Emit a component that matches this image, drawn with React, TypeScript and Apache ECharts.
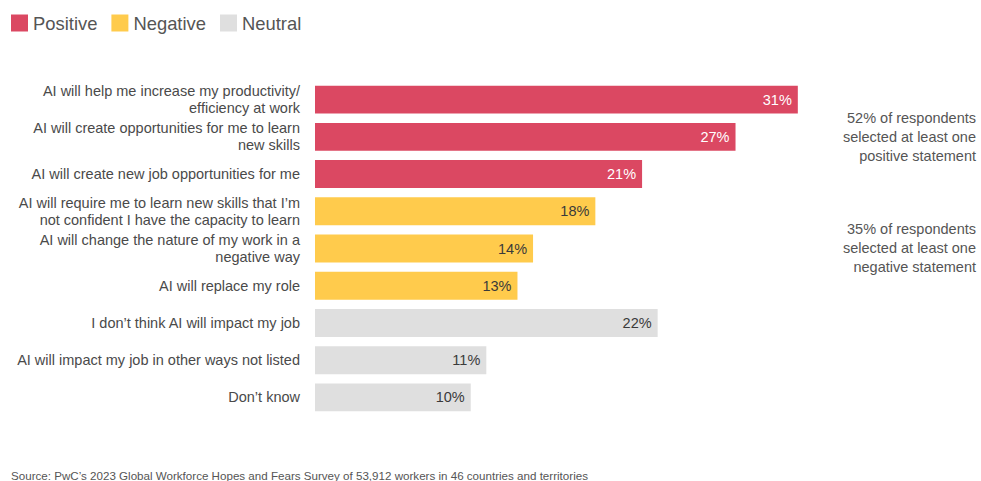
import React, { useEffect, useRef } from "react";
import * as echarts from "echarts";

const categories = [
  "AI will help me increase my productivity/\nefficiency at work",
  "AI will create opportunities for me to learn\nnew skills",
  "AI will create new job opportunities for me",
  "AI will require me to learn new skills that I’m\nnot confident I have the capacity to learn",
  "AI will change the nature of my work in a\nnegative way",
  "AI will replace my role",
  "I don’t think AI will impact my job",
  "AI will impact my job in other ways not listed",
  "Don’t know",
];
const groups = ["Positive", "Positive", "Positive", "Negative", "Negative", "Negative", "Neutral", "Neutral", "Neutral"];
const values = [31, 27, 21, 18, 14, 13, 22, 11, 10];
const seriesNames = ["Positive", "Negative", "Neutral"];
const seriesColors = ["#DB4862", "#FFCB4C", "#DFDFDF"];
const labelColors = ["#FFFFFF", "#3A3A3A", "#3A3A3A"];
const notes = [
  "52% of respondents\nselected at least one\npositive statement",
  "35% of respondents\nselected at least one\nnegative statement",
];
const source = "Source: PwC’s 2023 Global Workforce Hopes and Fears Survey of 53,912 workers in 46 countries and territories";

export default function App() {
  const ref = useRef<HTMLDivElement>(null);
  useEffect(() => {
    if (!ref.current) return;
    const chart = echarts.init(ref.current, null, { renderer: "svg" });
    const font = "Helvetica, Arial, 'Liberation Sans', sans-serif";
    const series = seriesNames.map((name, si) => ({
      name,
      type: "bar",
      stack: "all",
      barCategoryGap: "25%",
      itemStyle: { color: seriesColors[si] },
      label: {
        show: true,
        position: "insideRight",
        distance: 6,
        color: labelColors[si],
        fontSize: 14.5,
        fontFamily: font,
        formatter: (p: any) => `${p.value}%`,
      },
      data: values.map((v, i) => (groups[i] === name ? v : "-")),
    }));
    chart.setOption({
      animation: false,
      textStyle: { fontFamily: font },
      legend: {
        left: 6,
        top: 9,
        icon: "rect",
        itemWidth: 17,
        itemHeight: 17,
        itemGap: 14,
        textStyle: { fontSize: 18.4, color: "#555555", fontFamily: font },
        data: seriesNames,
      },
      grid: { left: 315, top: 81, width: 623, height: 335, containLabel: false },
      xAxis: {
        type: "value",
        min: 0,
        max: 40,
        show: false,
      },
      yAxis: {
        type: "category",
        inverse: true,
        data: categories,
        axisLine: { show: false },
        axisTick: { show: false },
        axisLabel: {
          margin: 15,
          fontSize: 14.5,
          lineHeight: 17,
          color: "#4A4A4A",
          fontFamily: font,
          align: "right",
        },
      },
      series,
      graphic: [
        {
          type: "text",
          x: 976,
          y: 108,
          style: { text: notes[0], fontSize: 14.5, lineHeight: 19, fill: "#555555", align: "right", verticalAlign: "top", fontFamily: font },
        },
        {
          type: "text",
          x: 976,
          y: 219,
          style: { text: notes[1], fontSize: 14.5, lineHeight: 19, fill: "#555555", align: "right", verticalAlign: "top", fontFamily: font },
        },
        {
          type: "text",
          x: 11,
          y: 469,
          style: { text: source, fontSize: 11.6, fill: "#555555", verticalAlign: "top", fontFamily: font },
        },
      ],
    });
    return () => chart.dispose();
  }, []);
  return <div ref={ref} style={{ width: 981, height: 481, position: "absolute", left: 0, top: 0 }} />;
}
